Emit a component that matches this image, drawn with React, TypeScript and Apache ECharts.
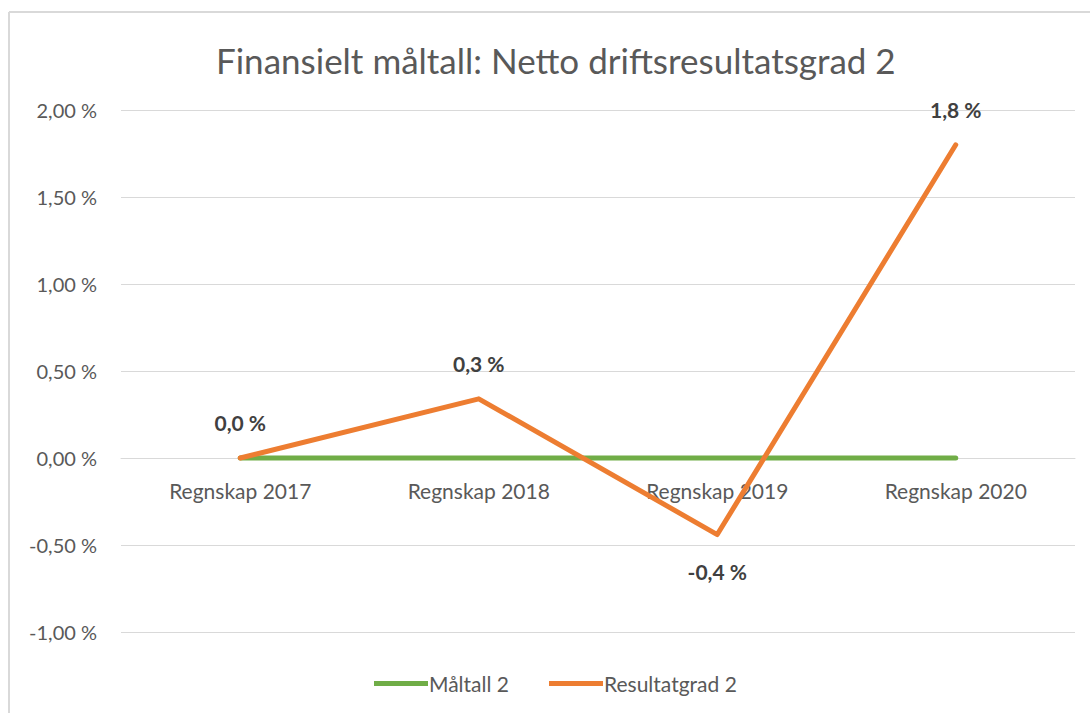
import React, { useEffect, useRef } from "react";
import * as echarts from "echarts";

const categories = ["Regnskap 2017", "Regnskap 2018", "Regnskap 2019", "Regnskap 2020"];
const maltall = [0, 0, 0, 0];
const resultatgrad = [0.0, 0.34, -0.44, 1.8];
const labelBelow = [false, false, true, false];
const titleText = "Finansielt måltall: Netto driftsresultatsgrad 2";

const FONT = "Lato, 'Open Sans', sans-serif";

export default function App() {
  const ref = useRef<HTMLDivElement>(null);
  useEffect(() => {
    if (!ref.current) return;
    const chart = echarts.init(ref.current, null, { renderer: "svg" });
    chart.setOption({
      animation: false,
      backgroundColor: "#ffffff",
      textStyle: { fontFamily: FONT },
      title: {
        text: titleText,
        left: 211,
        top: 37,
        textStyle: { fontFamily: FONT, fontSize: 35, fontWeight: "normal", color: "#595959" },
      },
      graphic: [
        { type: "line", shape: { x1: 9, y1: 12, x2: 1090, y2: 12 }, style: { stroke: "#d9d9d9", lineWidth: 2 } },
        { type: "line", shape: { x1: 9, y1: 12, x2: 9, y2: 713 }, style: { stroke: "#d9d9d9", lineWidth: 2 } },
      ],
      legend: {
        bottom: 14,
        left: 369,
        itemWidth: 54,
        itemHeight: 5,
        itemGap: 40,
        icon: "rect",
        textStyle: { fontFamily: FONT, fontSize: 21, color: "#595959", padding: [0, 0, 0, -4] },
        data: ["Måltall 2", "Resultatgrad 2"],
      },
      grid: { left: 121, right: 15, top: 110, bottom: 81 },
      xAxis: {
        type: "category",
        data: categories,
        boundaryGap: true,
        position: "bottom",
        offset: -174,
        axisLine: { onZero: false, lineStyle: { color: "#d9d9d9", width: 1 } },
        axisTick: { show: false },
        axisLabel: { fontFamily: FONT, fontSize: 21, color: "#595959", margin: 22 },
      },
      yAxis: {
        type: "value",
        min: -1,
        max: 2,
        interval: 0.5,
        axisLine: { show: false },
        axisTick: { show: false },
        splitLine: { lineStyle: { color: "#d9d9d9", width: 1 } },
        axisLabel: {
          fontFamily: FONT,
          fontSize: 20,
          color: "#595959",
          margin: 24,
          formatter: (v: number) => v.toFixed(2).replace(".", ",") + " %",
        },
      },
      series: [
        {
          name: "Måltall 2",
          type: "line",
          data: maltall,
          symbol: "none",
          lineStyle: { color: "#70ad47", width: 5, cap: "round" },
          itemStyle: { color: "#70ad47" },
          z: 2,
        },
        {
          name: "Resultatgrad 2",
          type: "line",
          data: resultatgrad.map((v, i) => ({
            value: v,
            label: {
              show: true,
              position: labelBelow[i] ? "bottom" : "top",
              distance: labelBelow[i] ? 26 : 25,
            },
          })),
          symbol: "circle",
          symbolSize: 0.1,
          showSymbol: true,
          lineStyle: { color: "#ed7d31", width: 5, cap: "round", join: "round" },
          itemStyle: { color: "#ed7d31" },
          label: {
            show: true,
            fontFamily: FONT,
            fontSize: 21,
            fontWeight: "bold",
            color: "#404040",
            formatter: (p: any) => p.value.toFixed(1).replace(".", ",") + " %",
          },
          z: 3,
        },
      ],
    });
    return () => chart.dispose();
  }, []);
  return (
    <div
      ref={ref}
      style={{ position: "absolute", left: 0, top: 0, width: 1090, height: 713 }}
    />
  );
}
